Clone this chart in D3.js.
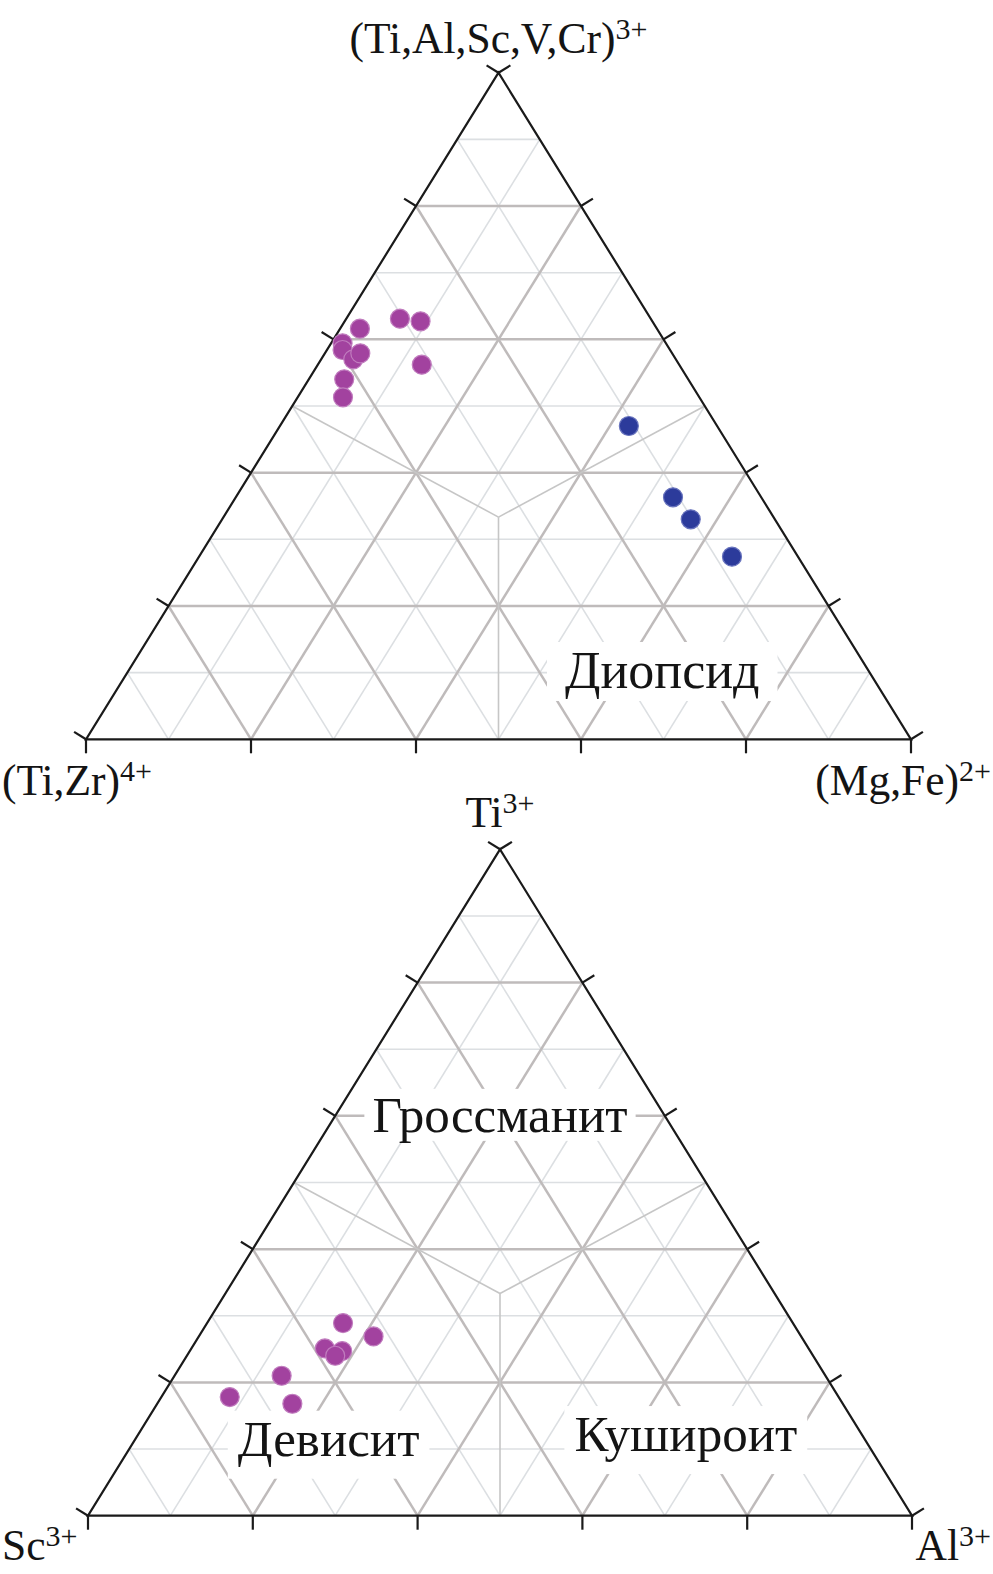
<!DOCTYPE html>
<html>
<head>
<meta charset="utf-8">
<script src="https://cdn.jsdelivr.net/npm/d3@7"></script>
<style>
  html, body { margin: 0; padding: 0; background: #ffffff; }
  svg { display: block; }
  text { font-family: "Liberation Serif", "Times New Roman", serif; fill: #141414; }
</style>
</head>
<body>
<svg id="chart" width="993" height="1574"></svg>
<script>
// ---------------- DATA ----------------
// Ternary values in percent: a = top vertex, b = bottom-left vertex, c = bottom-right vertex
const tickValues = [0, 20, 40, 60, 80, 100];
const gridValues = [10, 20, 30, 40, 50, 60, 70, 80, 90];

const topVertexNames = ["(Ti,Al,Sc,V,Cr)", "(Ti,Zr)", "(Mg,Fe)"];
const topVertexCharges = ["3+", "4+", "2+"];
const bottomVertexNames = ["Ti", "Sc", "Al"];
const bottomVertexCharges = ["3+", "3+", "3+"];

const topFieldNames = ["Диопсид"];
const bottomFieldNames = ["Гроссманит", "Девисит", "Кушироит"];

// top diagram: purple analyses
const topPurpleA = [61.6, 63.1, 62.7, 59.4, 58.4, 57.0, 57.9, 56.2, 54.0, 51.3];
const topPurpleB = [36.0, 30.4, 28.1, 39.2, 39.7, 39.1, 37.8, 31.2, 41.7, 43.2];
const topPurpleC = [2.4, 6.5, 9.2, 1.4, 1.9, 3.9, 4.3, 12.6, 4.3, 5.5];

// top diagram: blue analyses
const topBlueA = [47.0, 36.3, 33.0, 27.4];
const topBlueB = [10.7, 10.7, 10.2, 8.0];
const topBlueC = [42.3, 53.0, 56.8, 64.6];

// bottom diagram: purple analyses
const bottomPurpleA = [28.9, 26.9, 25.1, 24.7, 24.0, 21.0, 17.8, 16.8];
const bottomPurpleB = [54.6, 51.9, 58.7, 56.8, 58.0, 66.0, 73.9, 66.8];
const bottomPurpleC = [16.5, 21.2, 16.2, 18.5, 18.0, 13.0, 8.3, 16.4];

// ---------------- DRAWING ----------------
const svg = d3.select("#chart");

function zipABC(A, B, C) { return A.map((a, i) => ({ a: a, b: B[i], c: C[i] })); }

function ternary(frame) {
  const x = d3.scaleLinear().domain([0, 100]).range([frame.left, frame.right]);
  const y = d3.scaleLinear().domain([0, 100]).range([frame.base, frame.apex]);
  const proj = (a, b, c) => {
    const s = a + b + c;
    a = a * 100 / s; c = c * 100 / s;
    return [x(c + a / 2), y(a)];
  };
  return { x, y, proj };
}

function drawDiagram(frame, opts) {
  const g = svg.append("g");
  const T = ternary(frame);
  const P = T.proj;

  // grid lines
  const gridLines = [];
  gridValues.forEach(v => {
    const major = v % 20 === 0;
    gridLines.push({ p1: P(v, 100 - v, 0), p2: P(v, 0, 100 - v), major });
    gridLines.push({ p1: P(100 - v, v, 0), p2: P(0, v, 100 - v), major });
    gridLines.push({ p1: P(100 - v, 0, v), p2: P(0, 100 - v, v), major });
  });
  const gridG = g.append("g");
  gridG.selectAll("line.minor").data(gridLines.filter(d => !d.major)).join("line")
    .attr("class", "minor")
    .attr("x1", d => d.p1[0]).attr("y1", d => d.p1[1])
    .attr("x2", d => d.p2[0]).attr("y2", d => d.p2[1])
    .attr("stroke", "#dcdfe2").attr("stroke-width", 1.6);
  gridG.selectAll("line.major").data(gridLines.filter(d => d.major)).join("line")
    .attr("class", "major")
    .attr("x1", d => d.p1[0]).attr("y1", d => d.p1[1])
    .attr("x2", d => d.p2[0]).attr("y2", d => d.p2[1])
    .attr("stroke", "#bfbbbb").attr("stroke-width", 2.5);

  // field boundaries (centroid to edge midpoints)
  const cen = P(1, 1, 1);
  const mids = [P(50, 50, 0), P(50, 0, 50), P(0, 50, 50)];
  g.append("g").selectAll("line").data(mids).join("line")
    .attr("x1", cen[0]).attr("y1", cen[1])
    .attr("x2", d => d[0]).attr("y2", d => d[1])
    .attr("stroke", "#c6c6c6").attr("stroke-width", 1.6);

  // field labels with white boxes
  const fl = g.append("g");
  opts.fields.forEach(f => {
    const p = P(f.at[0], f.at[1], f.at[2]);
    const lg = fl.append("g");
    const t = lg.append("text")
      .attr("x", p[0]).attr("y", p[1])
      .attr("text-anchor", "middle")
      .attr("font-size", f.size)
      .text(f.name);
    const bb = t.node().getBBox();
    lg.insert("rect", "text")
      .attr("x", bb.x - f.padX).attr("y", bb.y - f.padTop)
      .attr("width", bb.width + 2 * f.padX)
      .attr("height", bb.height + f.padTop + f.padBottom)
      .attr("fill", "#ffffff");
  });

  // outline
  const A = P(100, 0, 0), B = P(0, 100, 0), C = P(0, 0, 100);
  g.append("path")
    .attr("d", d3.line()([A, B, C]) + "Z")
    .attr("fill", "none").attr("stroke", "#1a1a1a").attr("stroke-width", 2.2)
    .attr("stroke-linejoin", "miter");

  // ticks
  const tickLen = 14;
  function normal(p, q, away) {
    const dx = q[0] - p[0], dy = q[1] - p[1];
    let nx = -dy, ny = dx;
    const l = Math.hypot(nx, ny); nx /= l; ny /= l;
    const mx = (p[0] + q[0]) / 2, my = (p[1] + q[1]) / 2;
    if ((away[0] - mx) * nx + (away[1] - my) * ny > 0) { nx = -nx; ny = -ny; }
    return [nx * tickLen, ny * tickLen];
  }
  const nLeft = normal(B, A, C), nBottom = normal(B, C, A), nRight = normal(C, A, B);
  const ticks = [];
  tickValues.forEach(v => {
    ticks.push({ p: P(v, 100 - v, 0), n: nLeft });
    ticks.push({ p: P(0, 100 - v, v), n: nBottom });
    ticks.push({ p: P(v, 0, 100 - v), n: nRight });
  });
  g.append("g").selectAll("line").data(ticks).join("line")
    .attr("x1", d => d.p[0]).attr("y1", d => d.p[1])
    .attr("x2", d => d.p[0] + d.n[0]).attr("y2", d => d.p[1] + d.n[1])
    .attr("stroke", "#1a1a1a").attr("stroke-width", 2.2);

  // vertex labels
  function vlabel(x, y, anchor, name, charge) {
    const t = g.append("text").attr("x", x).attr("y", y)
      .attr("text-anchor", anchor).attr("font-size", 43.5);
    t.append("tspan").text(name);
    t.append("tspan").attr("font-size", 30).attr("dy", -14).text(charge);
  }
  vlabel(A[0], A[1] + opts.topLabelDy, "middle", opts.names[0], opts.charges[0]);
  vlabel(2, B[1] + opts.bottomLabelDy, "start", opts.names[1], opts.charges[1]);
  vlabel(991, C[1] + opts.bottomLabelDy, "end", opts.names[2], opts.charges[2]);

  // points
  opts.series.forEach(s => {
    g.append("g").selectAll("circle").data(s.data).join("circle")
      .attr("cx", d => P(d.a, d.b, d.c)[0])
      .attr("cy", d => P(d.a, d.b, d.c)[1])
      .attr("r", 9.5)
      .attr("fill", s.fill).attr("stroke", s.stroke).attr("stroke-width", 1.2);
  });
}

drawDiagram(
  { left: 86, right: 911, base: 739.3, apex: 72.7 },
  {
    names: topVertexNames, charges: topVertexCharges,
    topLabelDy: -20, bottomLabelDy: 56,
    fields: [
      { name: topFieldNames[0], at: [7.7, 26.3, 66.0], size: 52, padX: 18, padTop: 0, padBottom: 2 }
    ],
    series: [
      { data: zipABC(topPurpleA, topPurpleB, topPurpleC), fill: "#a2429f", stroke: "#c07cbe" },
      { data: zipABC(topBlueA, topBlueB, topBlueC), fill: "#2c3b9b", stroke: "#6873bd" }
    ]
  }
);

drawDiagram(
  { left: 88, right: 912, base: 1515.7, apex: 849.3 },
  {
    names: bottomVertexNames, charges: bottomVertexCharges,
    topLabelDy: -22.6, bottomLabelDy: 44,
    fields: [
      { name: bottomFieldNames[0], at: [57.6, 21.2, 21.2], size: 51, padX: 8, padTop: -2, padBottom: -2 },
      { name: bottomFieldNames[1], at: [9.0, 66.3, 24.7], size: 51, padX: 10, padTop: 0, padBottom: 12 },
      { name: bottomFieldNames[2], at: [9.7, 22.6, 67.7], size: 51, padX: 10, padTop: 0, padBottom: 12 }
    ],
    series: [
      { data: zipABC(bottomPurpleA, bottomPurpleB, bottomPurpleC), fill: "#a2429f", stroke: "#c07cbe" }
    ]
  }
);
</script>
</body>
</html>
